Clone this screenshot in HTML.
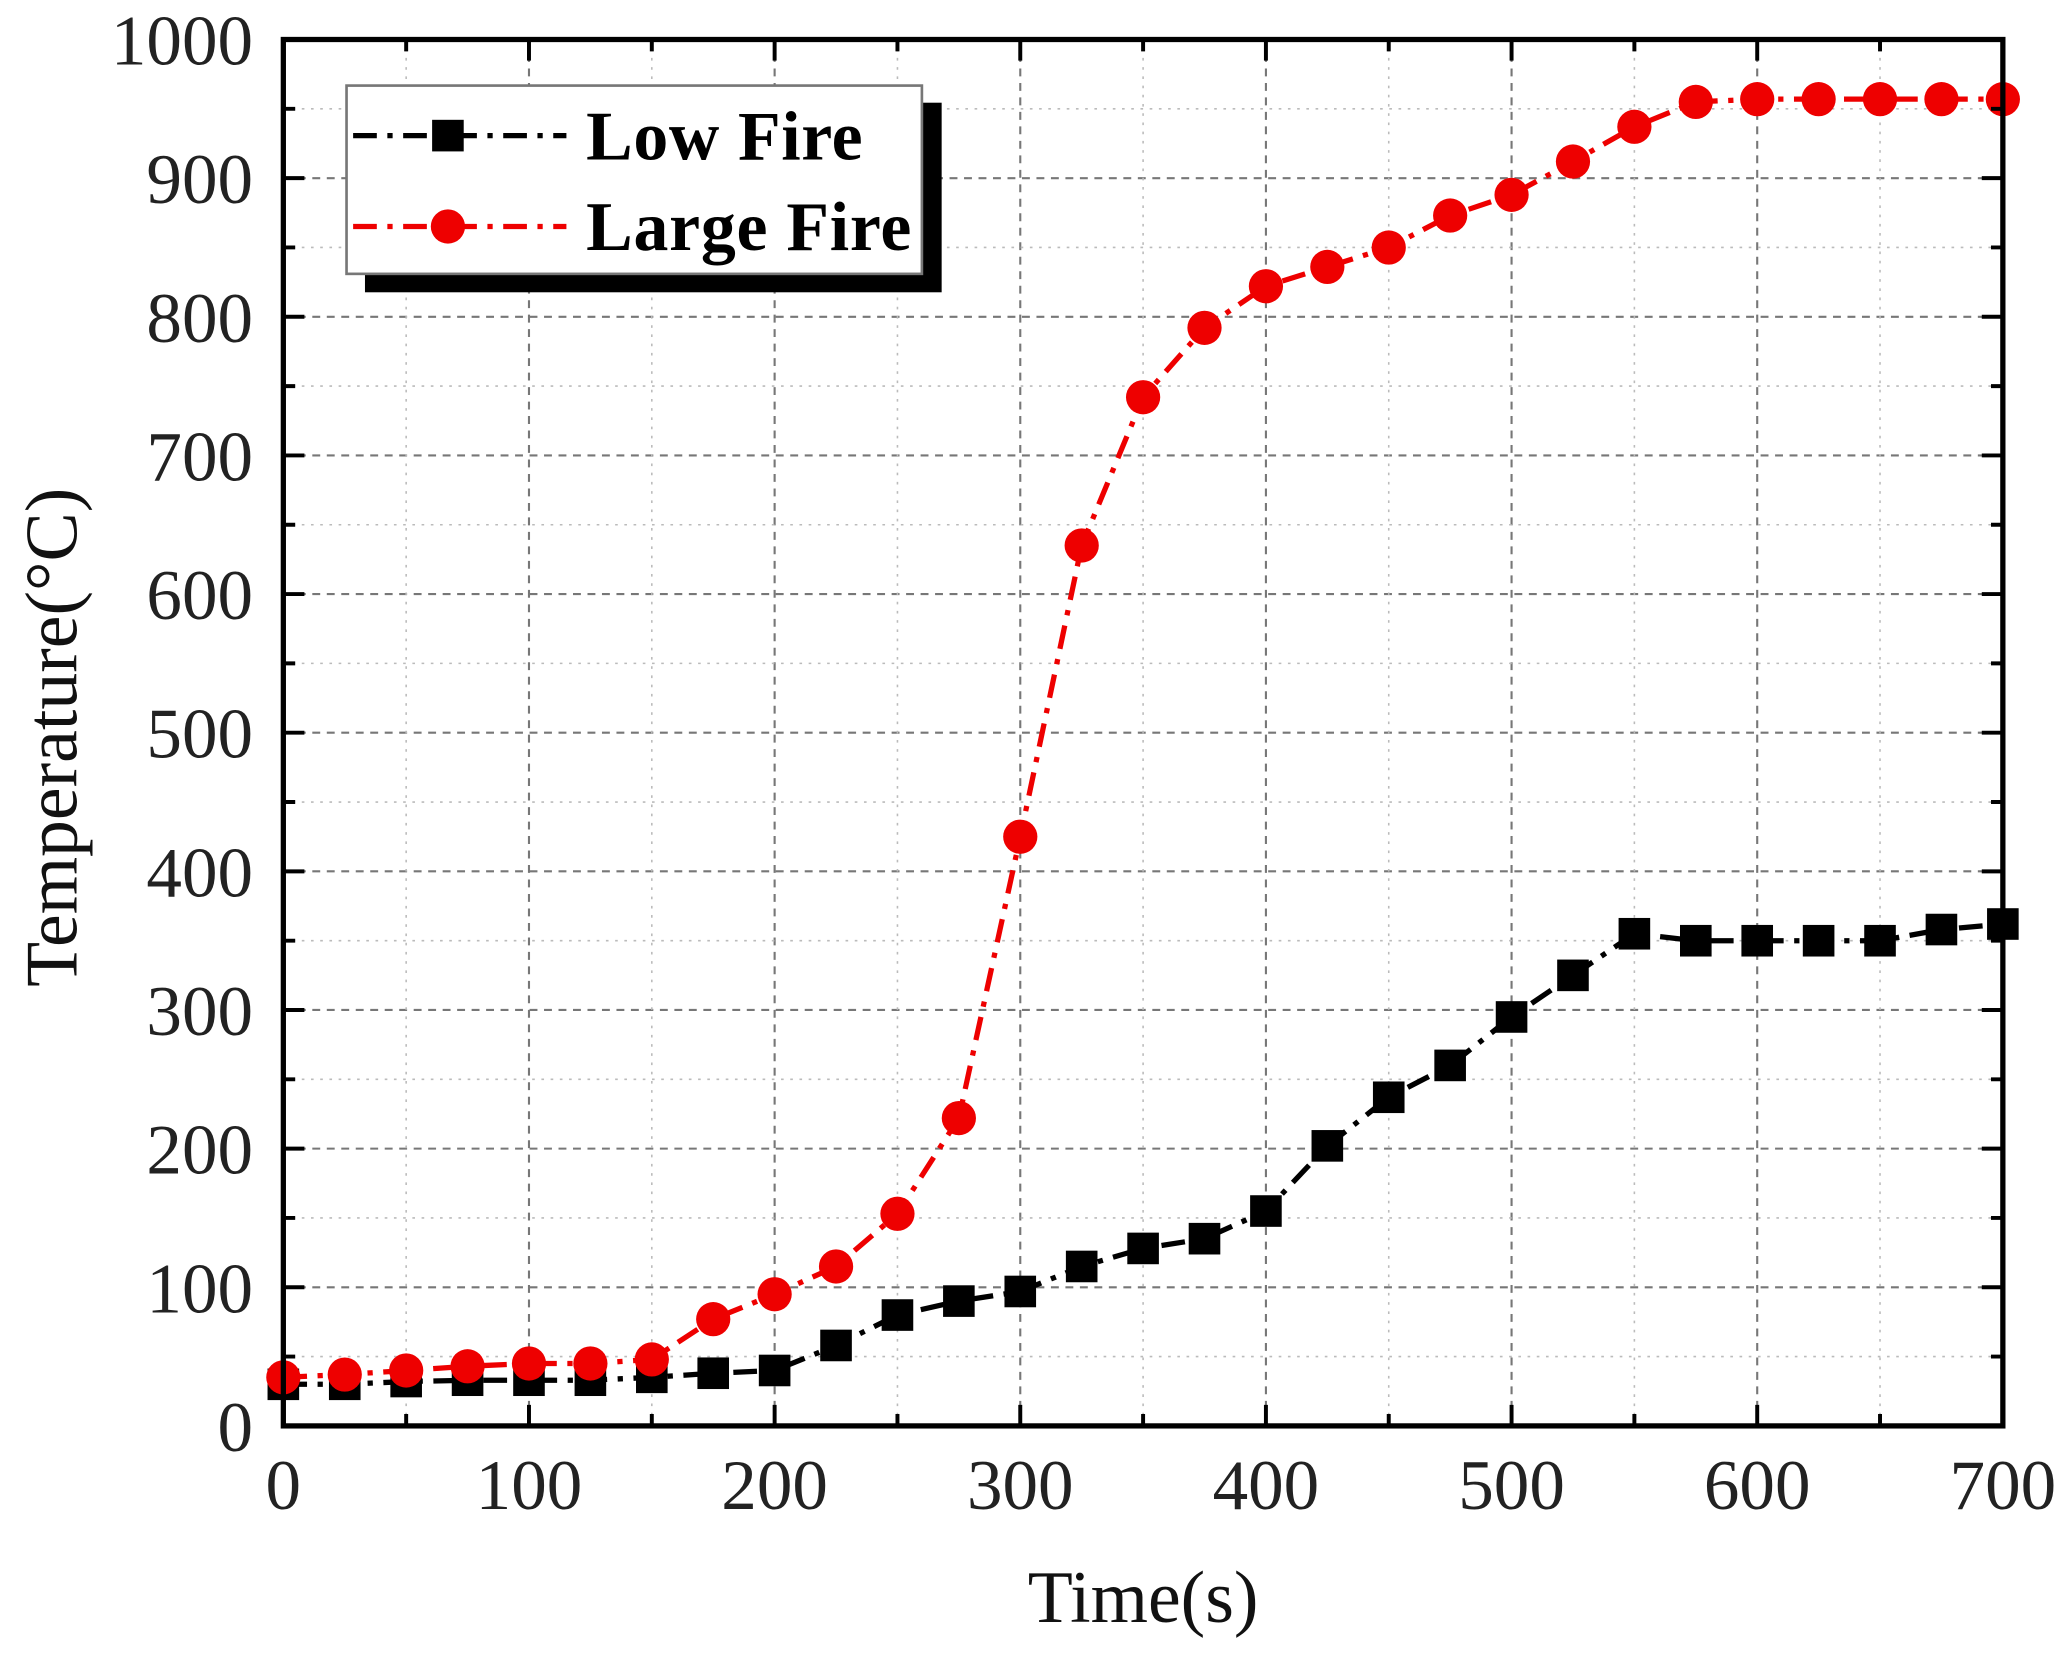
<!DOCTYPE html>
<html><head><style>html,body{margin:0;padding:0;background:#fff}</style></head>
<body>
<svg width="2065" height="1655" viewBox="0 0 1568 1257" xmlns="http://www.w3.org/2000/svg" font-family="Liberation Serif, serif">
<defs>
<marker id="sq" markerUnits="userSpaceOnUse" markerWidth="26" markerHeight="26" refX="13" refY="13" viewBox="0 0 26 26"><rect x="1" y="1" width="24" height="24" fill="#000"/></marker>
<marker id="ci" markerUnits="userSpaceOnUse" markerWidth="28" markerHeight="28" refX="14" refY="14" viewBox="0 0 28 28"><circle cx="14" cy="14" r="13" fill="#e00"/></marker>
</defs>
<rect width="1568" height="1257" fill="#fff"/>
<path d="M401.57,30V1083M588.14,30V1083M774.71,30V1083M961.29,30V1083M1147.86,30V1083M1334.43,30V1083M215,977.7H1521M215,872.4H1521M215,767.1H1521M215,661.8H1521M215,556.5H1521M215,451.2H1521M215,345.9H1521M215,240.6H1521M215,135.3H1521" stroke="#777" stroke-width="1.6" stroke-dasharray="6,5" fill="none"/>
<path d="M308.29,30V1083M494.86,30V1083M681.43,30V1083M868,30V1083M1054.57,30V1083M1241.14,30V1083M1427.71,30V1083M215,1030.35H1521M215,925.05H1521M215,819.75H1521M215,714.45H1521M215,609.15H1521M215,503.85H1521M215,398.55H1521M215,293.25H1521M215,187.95H1521M215,82.65H1521" stroke="#bbb" stroke-width="1.2" stroke-dasharray="2,5" fill="none"/>
<polyline fill="none" stroke="#000" stroke-width="4" stroke-dasharray="18,8,4,8" marker-start="url(#sq)" marker-mid="url(#sq)" marker-end="url(#sq)" points="215,1051.4 261.64,1051.4 308.29,1049.3 354.93,1048.3 401.57,1048.3 448.21,1048.3 494.86,1046.1 541.5,1043 588.14,1040.9 634.79,1021.9 681.43,998.8 728.07,988.2 774.71,980.9 821.36,961.9 868,948.2 914.64,940.8 961.29,919.8 1007.93,870.3 1054.57,833.4 1101.21,809.2 1147.86,772.4 1194.5,740.8 1241.14,709.2 1287.79,714.5 1334.43,714.5 1381.07,714.5 1427.71,714.5 1474.36,706 1521,701.8"/>
<polyline fill="none" stroke="#e00" stroke-width="4" stroke-dasharray="18,8,4,8" marker-start="url(#ci)" marker-mid="url(#ci)" marker-end="url(#ci)" points="215,1046.1 261.64,1044 308.29,1040.9 354.93,1037.7 401.57,1035.6 448.21,1035.6 494.86,1032.5 541.5,1001.9 588.14,983 634.79,961.9 681.43,921.9 728.07,849.2 774.71,635.5 821.36,414.3 868,301.7 914.64,249 961.29,217.4 1007.93,202.7 1054.57,188 1101.21,163.7 1147.86,148 1194.5,122.7 1241.14,96.3 1287.79,77.4 1334.43,75.3 1381.07,75.3 1427.71,75.3 1474.36,75.3 1521,75.3"/>
<rect x="215" y="30" width="1306" height="1053" fill="none" stroke="#000" stroke-width="4"/>
<path stroke="#000" stroke-width="3" fill="none" d="M215,1083v-16M401.57,1083v-16M588.14,1083v-16M774.71,1083v-16M961.29,1083v-16M1147.86,1083v-16M1334.43,1083v-16M308.29,1083v-9M494.86,1083v-9M681.43,1083v-9M868,1083v-9M1054.57,1083v-9M1241.14,1083v-9M1427.71,1083v-9
M401.57,30v16M588.14,30v16M774.71,30v16M961.29,30v16M1147.86,30v16M1334.43,30v16M308.29,30v9M494.86,30v9M681.43,30v9M868,30v9M1054.57,30v9M1241.14,30v9M1427.71,30v9
M215,977.7h16M215,872.4h16M215,767.1h16M215,661.8h16M215,556.5h16M215,451.2h16M215,345.9h16M215,240.6h16M215,135.3h16M215,1030.35h9M215,925.05h9M215,819.75h9M215,714.45h9M215,609.15h9M215,503.85h9M215,398.55h9M215,293.25h9M215,187.95h9M215,82.65h9
M1521,977.7h-16M1521,872.4h-16M1521,767.1h-16M1521,661.8h-16M1521,556.5h-16M1521,451.2h-16M1521,345.9h-16M1521,240.6h-16M1521,135.3h-16M1521,1030.35h-9M1521,925.05h-9M1521,819.75h-9M1521,714.45h-9M1521,609.15h-9M1521,503.85h-9M1521,398.55h-9M1521,293.25h-9M1521,187.95h-9M1521,82.65h-9"/>
<g font-size="54" fill="#222" text-anchor="middle">
<text x="215" y="1146">0</text><text x="401.57" y="1146">100</text><text x="588.14" y="1146">200</text><text x="774.71" y="1146">300</text><text x="961.29" y="1146">400</text><text x="1147.86" y="1146">500</text><text x="1334.43" y="1146">600</text><text x="1521" y="1146">700</text>
</g>
<g font-size="54" fill="#222" text-anchor="end">
<text x="192" y="1102">0</text><text x="192" y="996.7">100</text><text x="192" y="891.4">200</text><text x="192" y="786.1">300</text><text x="192" y="680.8">400</text><text x="192" y="575.5">500</text><text x="192" y="470.2">600</text><text x="192" y="364.9">700</text><text x="192" y="259.6">800</text><text x="192" y="154.3">900</text><text x="192" y="49">1000</text>
</g>
<text x="868" y="1232" font-size="56" text-anchor="middle" fill="#111">Time(s)</text>
<text transform="translate(58,560) rotate(-90)" font-size="56" text-anchor="middle" fill="#111">Temperature(°C)</text>
<rect x="277" y="78" width="438" height="144" fill="#000"/>
<rect x="263" y="65" width="437" height="143" fill="#fff" stroke="#777" stroke-width="2"/>
<line x1="268" y1="103" x2="430" y2="103" stroke="#000" stroke-width="4" stroke-dasharray="18,8,4,8"/>
<rect x="328" y="91" width="24" height="24" fill="#000"/>
<line x1="268" y1="172" x2="430" y2="172" stroke="#e00" stroke-width="4" stroke-dasharray="18,8,4,8"/>
<circle cx="340" cy="172" r="13" fill="#e00"/>
<text x="445" y="121" font-size="53" font-weight="bold" textLength="210">Low Fire</text>
<text x="445" y="190" font-size="53" font-weight="bold" textLength="247">Large Fire</text>
</svg>
</body></html>
